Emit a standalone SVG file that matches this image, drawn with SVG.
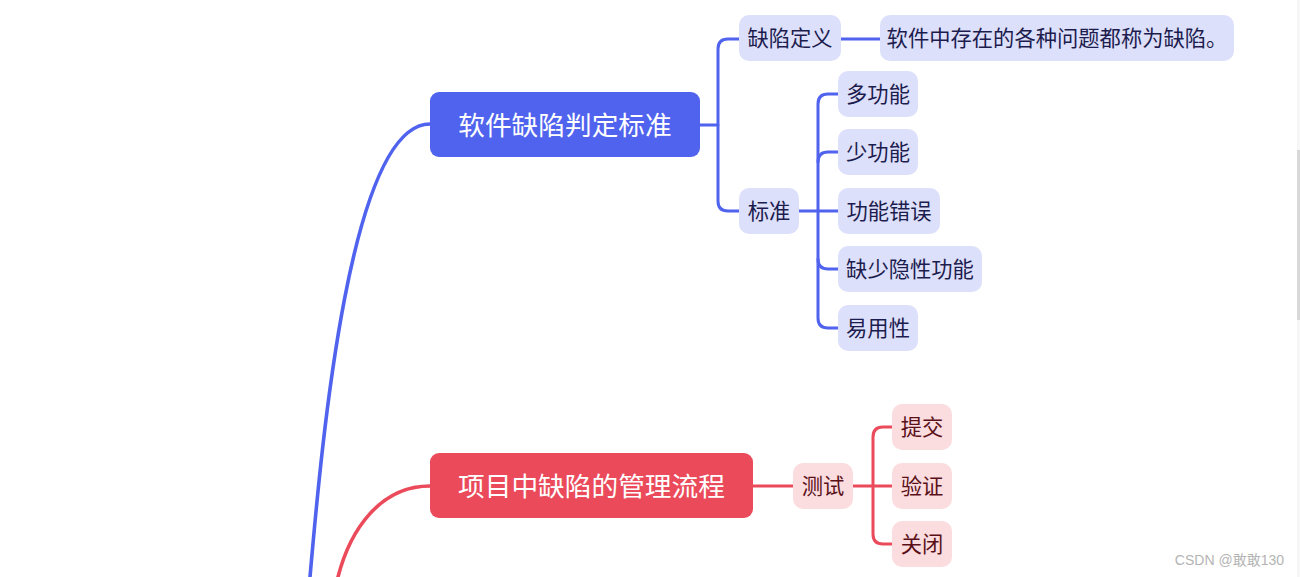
<svg xmlns="http://www.w3.org/2000/svg" width="1300" height="577" viewBox="0 0 1300 577">
<style>
.bl{fill:none;stroke:#5063EE;stroke-width:3;stroke-linecap:round}
.rd{fill:none;stroke:#EB4A5B;stroke-width:3;stroke-linecap:round}
.thick{stroke-width:3.6}
.mainB{fill:#5063EE}
.mainR{fill:#EB4A5B}
.subB{fill:#DDE0FB}
.subR{fill:#FBDCDF}
.tm{font-family:"Noto Sans CJK SC","Liberation Sans",sans-serif;font-size:26.7px;fill:#ffffff;text-anchor:middle;dominant-baseline:central}
.tb{font-family:"Noto Sans CJK SC","Liberation Sans",sans-serif;font-size:21.3px;fill:#1c1c4e;text-anchor:middle;dominant-baseline:central}
.tr{font-family:"Noto Sans CJK SC","Liberation Sans",sans-serif;font-size:21.3px;fill:#5a1018;text-anchor:middle;dominant-baseline:central}
</style>
<rect width="1300" height="577" fill="#ffffff"/>
<g id="connectors">
<path class="bl thick" d="M309 595 L310 577 C322 440 350 124 430 124"/>
<path class="rd thick" d="M330 595 L338 577 C350 530 380 486 430 486"/>
<path class="bl" d="M700 125 H718"/>
<path class="bl" d="M739 39 H728 Q718 39 718 49 V201 Q718 211 728 211 H739"/>
<path class="bl" d="M841 39 H880"/>
<path class="bl" d="M799 211 H838"/>
<path class="bl" d="M838 94 H828 Q818 94 818 104 V318 Q818 328 828 328 H838"/>
<path class="bl" d="M818 162 Q818 152 828 152 H838"/>
<path class="bl" d="M818 259 Q818 269 828 269 H838"/>
<path class="rd" d="M753 486 H793"/>
<path class="rd" d="M853 486 H892"/>
<path class="rd" d="M892 427 H883 Q873 427 873 437 V534 Q873 544 883 544 H892"/>
</g>
<g id="n-standard-main"><rect class="mainB" x="430" y="92" width="270" height="65" rx="9"/><text class="tm" x="565" y="123">软件缺陷判定标准</text></g>
<g id="n-defdef"><rect class="subB" x="739" y="15" width="102" height="46" rx="10"/><text class="tb" x="790" y="36.5">缺陷定义</text></g>
<g id="n-defdesc"><rect class="subB" x="880" y="15" width="354" height="46" rx="10"/><text class="tb" x="1057" y="36.5">软件中存在的各种问题都称为缺陷。</text></g>
<g id="n-std"><rect class="subB" x="739" y="188" width="60" height="46" rx="10"/><text class="tb" x="769" y="209.5">标准</text></g>
<g id="n-more"><rect class="subB" x="838" y="71" width="80" height="46" rx="10"/><text class="tb" x="878" y="92.5">多功能</text></g>
<g id="n-less"><rect class="subB" x="838" y="129" width="80" height="46" rx="10"/><text class="tb" x="878" y="150.5">少功能</text></g>
<g id="n-wrong"><rect class="subB" x="838" y="188" width="102" height="46" rx="10"/><text class="tb" x="889" y="209.5">功能错误</text></g>
<g id="n-hidden"><rect class="subB" x="838" y="246" width="144" height="46" rx="10"/><text class="tb" x="910" y="267.5">缺少隐性功能</text></g>
<g id="n-usab"><rect class="subB" x="838" y="305" width="80" height="46" rx="10"/><text class="tb" x="878" y="326.5">易用性</text></g>
<g id="n-process-main"><rect class="mainR" x="430" y="453" width="323" height="65" rx="9"/><text class="tm" x="591.5" y="484">项目中缺陷的管理流程</text></g>
<g id="n-test"><rect class="subR" x="793" y="463" width="60" height="46" rx="10"/><text class="tr" x="823" y="484.5">测试</text></g>
<g id="n-submit"><rect class="subR" x="892" y="404" width="60" height="46" rx="10"/><text class="tr" x="922" y="425.5">提交</text></g>
<g id="n-verify"><rect class="subR" x="892" y="463" width="60" height="46" rx="10"/><text class="tr" x="922" y="484.5">验证</text></g>
<g id="n-close"><rect class="subR" x="892" y="521" width="60" height="46" rx="10"/><text class="tr" x="922" y="542.5">关闭</text></g>
<rect x="1297" y="0" width="3" height="577" fill="#f6f6f6"/>
<rect x="1297" y="150" width="3" height="170" fill="#d8d8d8"/>
<text x="1284" y="565" text-anchor="end" font-family="Liberation Sans,'Noto Sans CJK SC',sans-serif" font-size="14" fill="#b4b4b4">CSDN @敢敢130</text>
</svg>
